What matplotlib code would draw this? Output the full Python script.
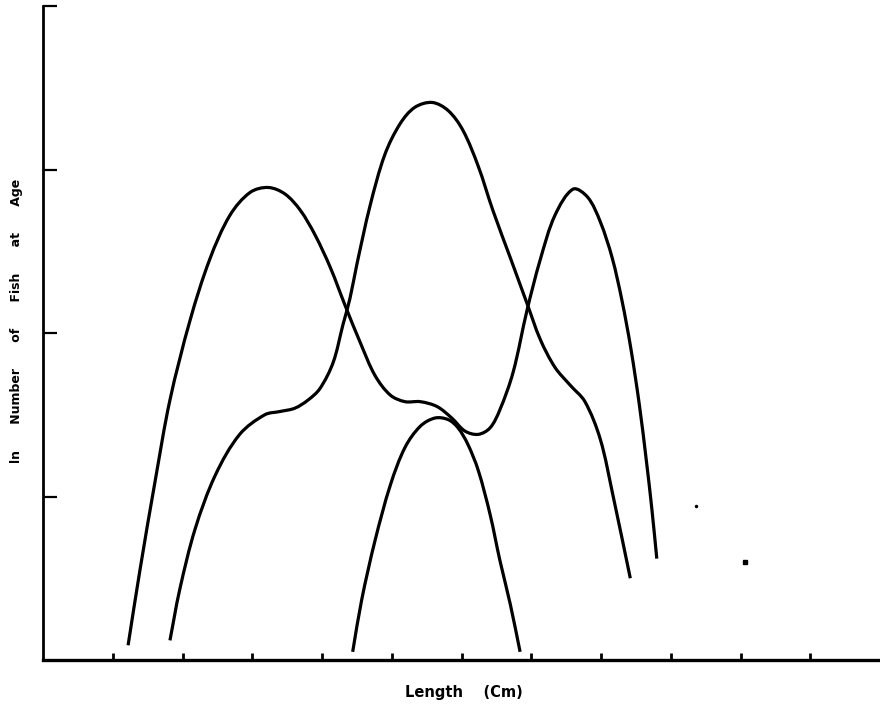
import numpy as np
import matplotlib
matplotlib.use("Agg")
import matplotlib.pyplot as plt
from matplotlib.path import Path
from matplotlib.patches import PathPatch

# === Length-frequency curves (ln number of fish at age vs length) ===
# first curve: two modes with a shoulder between them
len_a = [1.22, 1.39, 1.61, 1.82, 2.11, 2.39, 2.68, 2.97, 3.23, 3.47, 3.69, 3.90,
         4.12, 4.33, 4.55, 4.76, 4.98, 5.19, 5.41, 5.65, 5.86, 6.05, 6.24, 6.41,
         6.55, 6.74, 6.94, 7.13, 7.34, 7.60, 7.81, 7.99, 8.16, 8.30, 8.43, 8.55,
         8.65, 8.73, 8.80]
ln_a = [0.09, 0.55, 1.10, 1.59, 2.08, 2.45, 2.72, 2.86, 2.89, 2.85, 2.75, 2.60,
        2.40, 2.17, 1.94, 1.74, 1.62, 1.58, 1.58, 1.55, 1.48, 1.40, 1.38, 1.42,
        1.53, 1.76, 2.14, 2.45, 2.72, 2.88, 2.83, 2.68, 2.46, 2.20, 1.90, 1.56,
        1.22, 0.92, 0.62]

# second curve: tall central mode with shoulders on both sides
len_b = [1.82, 1.96, 2.18, 2.47, 2.82, 3.18, 3.40, 3.61, 3.80, 3.97, 4.16, 4.30,
         4.40, 4.50, 4.69, 4.90, 5.12, 5.33, 5.58, 5.81, 6.02, 6.24, 6.45, 6.70,
         6.94, 7.13, 7.34, 7.56, 7.77, 7.99, 8.17, 8.42]
ln_b = [0.12, 0.43, 0.80, 1.13, 1.38, 1.50, 1.52, 1.54, 1.59, 1.66, 1.82, 2.05,
        2.21, 2.42, 2.78, 3.09, 3.28, 3.38, 3.41, 3.36, 3.24, 3.02, 2.75, 2.46,
        2.18, 1.96, 1.79, 1.68, 1.58, 1.35, 1.01, 0.50]

# third curve: small single mode
len_c = [4.44, 4.57, 4.76, 4.98, 5.19, 5.41, 5.62, 5.81, 5.95, 6.09, 6.24, 6.41,
         6.55, 6.70, 6.84]
ln_c = [0.05, 0.37, 0.73, 1.07, 1.30, 1.43, 1.48, 1.47, 1.42, 1.32, 1.16, 0.89,
        0.61, 0.34, 0.05]

# stray points
len_pts = [9.36, 10.07]
ln_pts = [0.94, 0.60]

x_ticks = list(range(1, 12))
y_ticks = [1, 2, 3, 4]


def smooth_path(ax, xs, ys):
    # cubic bezier through every point, tangents from chord-length spacing
    p = np.column_stack([xs, ys]).astype(float)
    q = ax.transData.transform(p)
    t = np.concatenate([[0], np.cumsum(np.hypot(*np.diff(q, axis=0).T))])
    n = len(p)
    tang = np.zeros_like(p)
    for i in range(n):
        lo, hi = max(i - 1, 0), min(i + 1, n - 1)
        tang[i] = (p[hi] - p[lo]) / (t[hi] - t[lo])
    verts = [p[0]]
    codes = [Path.MOVETO]
    for i in range(n - 1):
        h = t[i + 1] - t[i]
        verts += [p[i] + tang[i] * h / 3, p[i + 1] - tang[i + 1] * h / 3, p[i + 1]]
        codes += [Path.CURVE4] * 3
    return Path(verts, codes)


fig = plt.figure(figsize=(8.8, 7.04), dpi=100)
ax = fig.add_axes([43 / 880, 44 / 704, 837 / 880, 654 / 704])
ax.set_xlim(0, 12)
ax.set_ylim(0, 4)

for xs, ys in [(len_a, ln_a), (len_b, ln_b), (len_c, ln_c)]:
    ax.add_patch(PathPatch(smooth_path(ax, xs, ys), fill=False, ec="black",
                           lw=2.3, capstyle="butt", joinstyle="round"))

ax.plot(len_pts[:1], ln_pts[:1], "o", color="black", ms=1.5)
ax.plot(len_pts[1:], ln_pts[1:], "s", color="black", ms=3)

ax.set_xticks(x_ticks)
ax.set_yticks(y_ticks)
ax.set_xticklabels([])
ax.set_yticklabels([])
ax.tick_params(axis="x", direction="in", length=5, width=2)
ax.tick_params(axis="y", direction="in", length=10, width=1.6)

for side in ["top", "right"]:
    ax.spines[side].set_visible(False)
ax.spines["left"].set_linewidth(2)
ax.spines["bottom"].set_linewidth(2.4)

fig.text(464 / 880, 1 - 693 / 704, "Length    (Cm)", ha="center", va="center",
         fontsize=10.5, fontweight="bold", family="DejaVu Sans")
fig.text(17 / 880, 1 - 321 / 704, "ln      Number      of      Fish      at      Age",
         ha="center", va="center", rotation=90, fontsize=9, fontweight="bold",
         family="DejaVu Sans")

fig.savefig("out.png", dpi=100)
